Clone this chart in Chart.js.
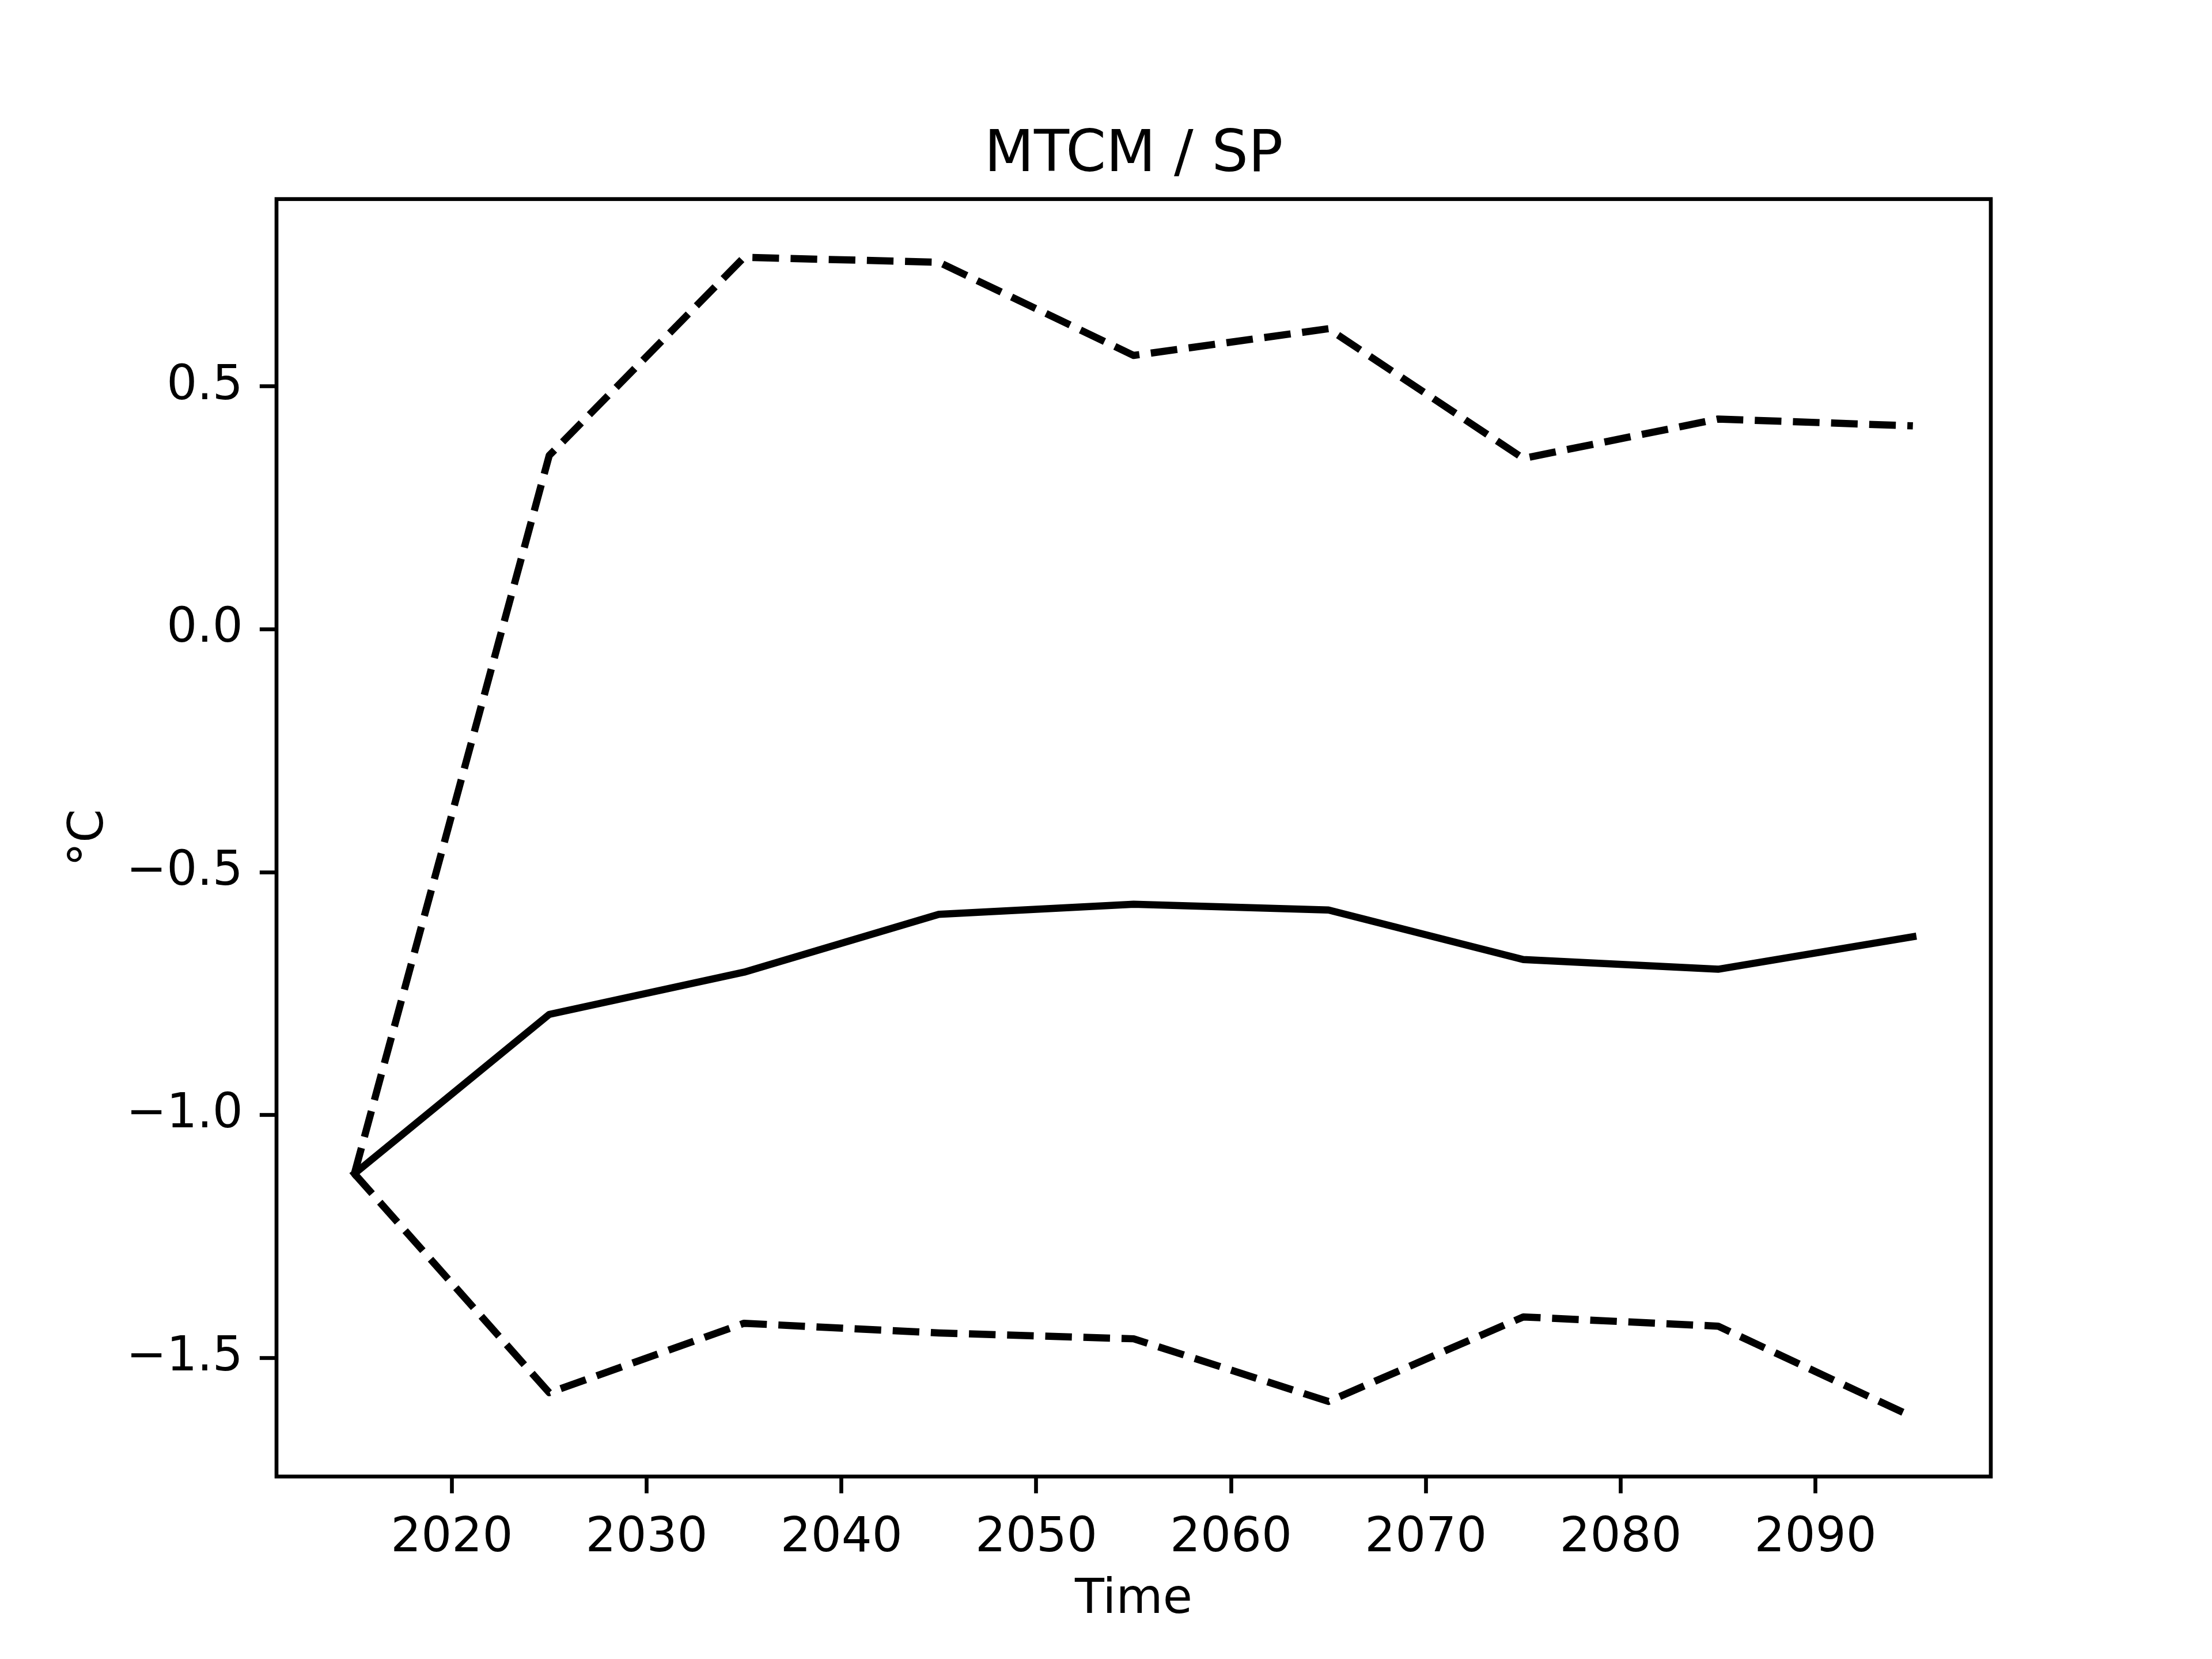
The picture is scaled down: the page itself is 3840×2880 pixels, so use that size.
<!DOCTYPE html>
<html>
<head>
<meta charset="utf-8">
<script src="https://cdn.jsdelivr.net/npm/chart.js@4.4.1/dist/chart.umd.min.js"></script>
<style>
  html, body { margin: 0; padding: 0; background: #fff; }
  canvas { display: block; }
</style>
</head>
<body>
<canvas id="chart" width="3840" height="2880"></canvas>
<script>
const years = [2015, 2025, 2035, 2045, 2055, 2065, 2075, 2085, 2095];
const meanValues = [-1.121, -0.793, -0.706, -0.587, -0.566, -0.578, -0.680, -0.700, -0.633];
const upperValues = [-1.121, 0.358, 0.766, 0.756, 0.564, 0.619, 0.352, 0.433, 0.419];
const lowerValues = [-1.121, -1.572, -1.429, -1.449, -1.461, -1.590, -1.416, -1.435, -1.622];
const xTicks = [2020, 2030, 2040, 2050, 2060, 2070, 2080, 2090];
const yTicks = [-1.5, -1.0, -0.5, 0.0, 0.5];

const titleText = "MTCM / SP";
const xLabel = "Time";
const yLabel = "°C";

const FONT = "DejaVu Sans";
const PT = 600 / 72; // matplotlib points -> pixels at 600 dpi

Chart.defaults.font.family = FONT;
Chart.defaults.color = "#000";

function toPoints(values) {
  return years.map((year, i) => ({ x: year, y: values[i] }));
}

function formatTick(value) {
  const s = Number(value).toFixed(1);
  return s.replace("-", "\u2212");
}

// frame, title and axis labels, like matplotlib draws them
const decorations = {
  id: "decorations",
  afterDraw(chart) {
    const { ctx, chartArea } = chart;
    const cx = (chartArea.left + chartArea.right) / 2;
    const cy = (chartArea.top + chartArea.bottom) / 2;
    ctx.save();
    ctx.strokeStyle = "#000";
    ctx.lineWidth = 0.8 * PT;
    ctx.strokeRect(chartArea.left, chartArea.top,
      chartArea.right - chartArea.left, chartArea.bottom - chartArea.top);

    ctx.fillStyle = "#000";
    ctx.textAlign = "center";
    ctx.textBaseline = "alphabetic";
    ctx.font = `${12 * PT}px "${FONT}"`;
    ctx.fillText(titleText, cx, chartArea.top - 49);

    ctx.font = `${10 * PT}px "${FONT}"`;
    ctx.fillText(xLabel, cx, 2800);

    ctx.translate(178, cy);
    ctx.rotate(-Math.PI / 2);
    ctx.fillText(yLabel, 0, 0);
    ctx.restore();
  }
};

const ctx = document.getElementById("chart").getContext("2d");

const chart = new Chart(ctx, {
  type: "line",
  data: {
    datasets: [
      {
        label: "mean",
        data: toPoints(meanValues),
        borderColor: "#000",
        borderWidth: 1.5 * PT,
        borderCapStyle: "square",
        borderJoinStyle: "round",
      },
      {
        label: "upper",
        data: toPoints(upperValues),
        borderColor: "#000",
        borderWidth: 1.5 * PT,
        borderDash: [3.7 * 1.5 * PT, 1.6 * 1.5 * PT],
        borderCapStyle: "butt",
        borderJoinStyle: "round",
      },
      {
        label: "lower",
        data: toPoints(lowerValues),
        borderColor: "#000",
        borderWidth: 1.5 * PT,
        borderDash: [3.7 * 1.5 * PT, 1.6 * 1.5 * PT],
        borderCapStyle: "butt",
        borderJoinStyle: "round",
      },
    ],
  },
  options: {
    responsive: false,
    animation: false,
    devicePixelRatio: 1,
    elements: {
      point: { radius: 0 },
      line: { tension: 0 },
    },
    layout: {
      padding: { top: 345.6, right: 384, left: 0, bottom: 0 },
    },
    plugins: {
      legend: { display: false },
      tooltip: { enabled: false },
      title: { display: false },
    },
    scales: {
      x: {
        type: "linear",
        min: 2011,
        max: 2099,
        afterBuildTicks(scale) {
          scale.ticks = xTicks.map((v) => ({ value: v }));
        },
        afterFit(scale) {
          scale.height = 316.8;
        },
        border: { display: false },
        grid: {
          drawOnChartArea: false,
          drawTicks: true,
          tickLength: 3.5 * PT,
          tickWidth: 0.8 * PT,
          tickColor: "#000",
        },
        ticks: {
          padding: 3.5 * PT,
          maxRotation: 0,
          autoSkip: false,
          font: { size: 10 * PT },
          color: "#000",
          callback: (v) => String(v),
        },
      },
      y: {
        type: "linear",
        min: -1.7446,
        max: 0.886,
        afterBuildTicks(scale) {
          scale.ticks = yTicks.map((v) => ({ value: v }));
        },
        afterFit(scale) {
          scale.width = 480;
        },
        border: { display: false },
        grid: {
          drawOnChartArea: false,
          drawTicks: true,
          tickLength: 3.5 * PT,
          tickWidth: 0.8 * PT,
          tickColor: "#000",
        },
        ticks: {
          padding: 3.5 * PT,
          autoSkip: false,
          font: { size: 10 * PT },
          color: "#000",
          callback: formatTick,
        },
      },
    },
  },
  plugins: [decorations],
});
</script>
</body>
</html>
